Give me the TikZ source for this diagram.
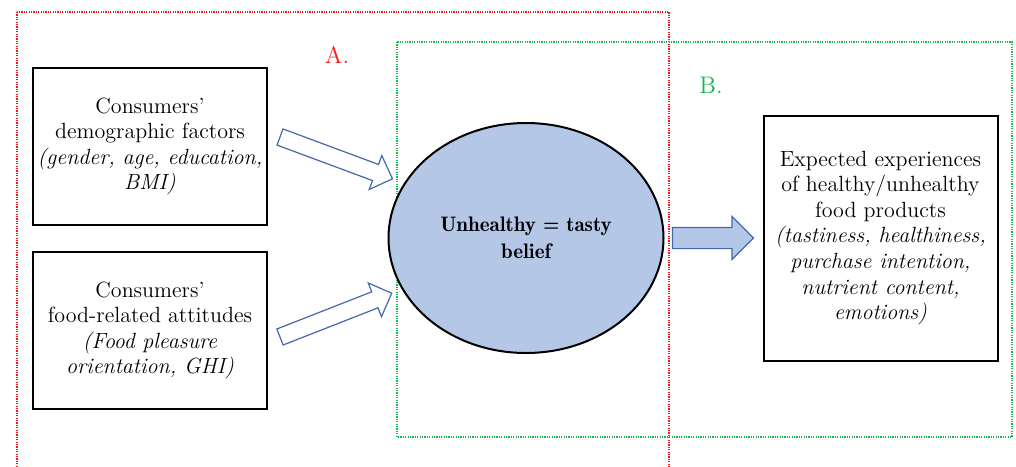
\documentclass[tikz,border=0pt]{standalone}
\usepackage{tikz}
\usetikzlibrary{arrows.meta,positioning,shapes.geometric,shapes.arrows}
\definecolor{beliefblue}{RGB}{180,199,231}
\definecolor{arrowline}{RGB}{68,104,170}
\definecolor{regionred}{RGB}{255,20,20}
\definecolor{regiongreen}{RGB}{20,185,80}

\begin{document}
\begin{tikzpicture}[x=0.5pt,y=-0.5pt,>=Latex,
  txt/.style={font=\fontsize{11}{12.8}\selectfont},
  factorbox/.style={txt,draw,line width=1pt,minimum width=117pt,minimum height=78.5pt,align=center,inner sep=0pt,outer sep=0pt},
  hollowarrow/.style={single arrow,draw=arrowline,fill=white,line width=0.6pt,minimum height=60pt,minimum width=17.5pt,single arrow head extend=4.75pt,inner xsep=0pt,inner ysep=4pt,outer sep=0pt},
  region/.style={line width=0.9pt,dash pattern=on 0.6pt off 0.6pt}]
\useasboundingbox (0,0) rectangle (1016,466);

% the two regions
\draw[region,regionred] (17,12) rectangle (669,480);
\draw[region,regiongreen] (397,42) rectangle (1012,437);
\node[font=\fontsize{12}{14}\selectfont,text=regionred] (labA) at (337,55) {A.};
\node[font=\fontsize{12}{14}\selectfont,text=regiongreen] (labB) at (711,85) {B.};

% antecedents
\node[factorbox] (demo) at (150,146.5) {Consumers'\\demographic factors\\\textit{(gender, age, education,}\\\textit{BMI)}};
\node[factorbox,below=13.5pt of demo] (attit) {Consumers'\\food-related attitudes\\\textit{(Food pleasure}\\\textit{orientation, GHI)}};

% belief
\node[ellipse,draw,line width=1pt,fill=beliefblue,minimum width=137.5pt,minimum height=115pt,inner sep=0pt,outer sep=0pt,
  align=center,font=\fontsize{10.5}{13.5}\selectfont\fontseries{b}\selectfont] (belief) at (526,238) {Unhealthy = tasty\\belief};

% outcomes
\node[single arrow,draw=arrowline,fill=beliefblue,line width=0.6pt,minimum height=40.5pt,minimum width=21pt,
  single arrow head extend=5.5pt,inner xsep=0pt,inner ysep=5pt,outer sep=0pt,right=4.5pt of belief] (flow) {};
\node[factorbox,minimum height=122.5pt,right=5pt of flow] (expect) {Expected experiences\\of healthy/unhealthy\\food products\\\textit{(tastiness, healthiness,}\\\textit{purchase intention,}\\\textit{nutrient content,}\\\textit{emotions)}};

% block arrows into the belief
\node[hollowarrow,rotate=-20.4,anchor=tail] (demoarr) at (280,137) {};
\node[hollowarrow,rotate=21.4,anchor=tail] (attitarr) at (280,337) {};
\end{tikzpicture}
\end{document}
